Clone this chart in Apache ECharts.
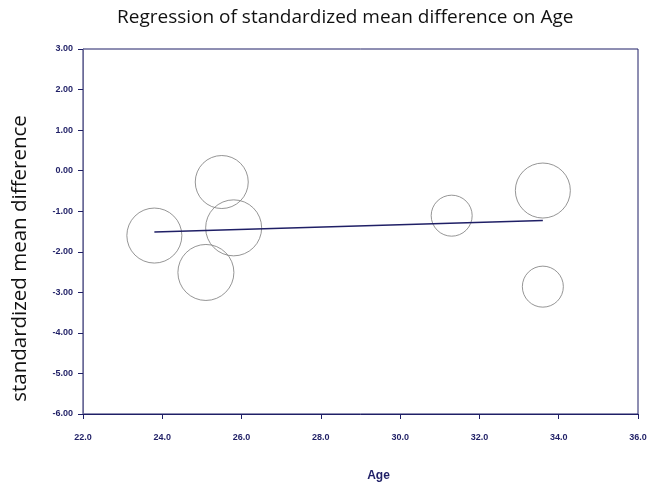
<!DOCTYPE html>
<html>
<head>
<meta charset="utf-8">
<script src="https://cdn.jsdelivr.net/npm/echarts@6/dist/echarts.min.js"></script>
<style>
  html, body { margin: 0; padding: 0; background: #fff; }
  #chart { width: 650px; height: 483px; }
</style>
</head>
<body>
<div id="chart"></div>
<script>
// study points: age, standardized mean difference, relative weight
const ages = [23.8, 25.5, 25.8, 25.1, 31.3, 33.6, 33.6];
const smd = [-1.60, -0.28, -1.41, -2.51, -1.11, -0.49, -2.86];
const weights = [55, 53, 56, 56, 41, 55, 41];

// fitted regression line ends
const lineAge = [23.8, 33.6];
const lineSmd = [-1.51, -1.23];

const navy = '#1f1f66';

const chart = echarts.init(document.getElementById('chart'));

const option = {
  animation: false,
  title: {
    text: 'Regression of standardized mean difference on Age',
    left: 112,
    top: 3,
    textStyle: {
      fontFamily: 'Open Sans',
      fontWeight: 'normal',
      fontSize: 19,
      color: '#111'
    }
  },
  grid: {
    left: 83,
    right: 12,
    top: 49,
    bottom: 69,
    outerBoundsMode: 'none',
    show: true,
    borderColor: navy,
    borderWidth: 1
  },
  xAxis: {
    type: 'value',
    min: 22,
    max: 36,
    interval: 2,
    name: 'Age',
    nameLocation: 'middle',
    nameGap: 56,
    nameTextStyle: {
      fontFamily: 'Liberation Sans',
      fontWeight: 'bold',
      fontSize: 12,
      color: navy,
      padding: [0, 0, 0, 36]
    },
    axisLine: { onZero: false, lineStyle: { color: navy } },
    axisTick: { inside: false, length: 5, lineStyle: { color: navy } },
    axisLabel: {
      margin: 19,
      fontFamily: 'Liberation Sans',
      fontWeight: 'bold',
      fontSize: 9,
      color: navy,
      formatter: v => v.toFixed(1)
    },
    splitLine: { show: false }
  },
  yAxis: {
    type: 'value',
    min: -6,
    max: 3,
    interval: 1,
    name: 'standardized mean difference',
    nameLocation: 'middle',
    nameGap: 52,
    nameTextStyle: {
      fontFamily: 'Open Sans',
      fontSize: 20.5,
      color: '#111',
      padding: [0, 54, 0, 0]
    },
    axisLine: { onZero: false, lineStyle: { color: '#6a6a96' } },
    axisTick: { length: 5, lineStyle: { color: navy } },
    axisLabel: {
      margin: 10,
      fontFamily: 'Liberation Sans',
      fontWeight: 'bold',
      fontSize: 9,
      color: navy,
      formatter: v => v.toFixed(2)
    },
    splitLine: { show: false }
  },
  series: [
    {
      type: 'scatter',
      data: ages.map((a, i) => [a, smd[i], weights[i]]),
      symbol: 'circle',
      symbolSize: d => d[2],
      itemStyle: {
        color: 'rgba(0,0,0,0)',
        borderColor: '#7a7a7a',
        borderWidth: 1
      },
      z: 2
    },
    {
      type: 'line',
      data: lineAge.map((a, i) => [a, lineSmd[i]]),
      showSymbol: false,
      lineStyle: { color: navy, width: 1.5 },
      z: 3
    }
  ]
};

chart.setOption(option);
</script>
</body>
</html>
